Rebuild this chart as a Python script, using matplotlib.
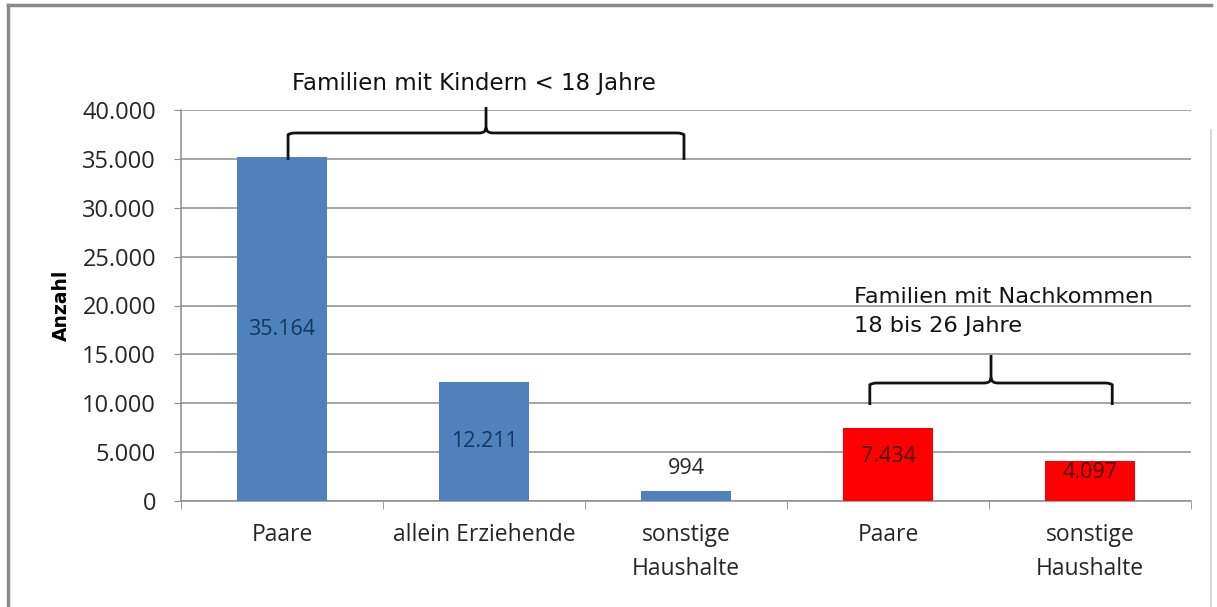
import numpy as np
import matplotlib
matplotlib.use('Agg')
from matplotlib import pyplot as plt
from matplotlib.path import Path
from matplotlib.patches import PathPatch
from matplotlib.ticker import FuncFormatter

categories = ['Paare', 'allein Erziehende', 'sonstige\nHaushalte', 'Paare', 'sonstige\nHaushalte']
values = [35164, 12211, 994, 7434, 4097]
groups = ['kinder', 'kinder', 'kinder', 'nachkommen', 'nachkommen']
y_ticks = [0, 5000, 10000, 15000, 20000, 25000, 30000, 35000, 40000]
label_kinder = 'Familien mit Kindern < 18 Jahre'
label_nachkommen = 'Familien mit Nachkommen\n18 bis 26 Jahre'

colors = {'kinder': '#4F81BD', 'nachkommen': '#FF0000'}
text_colors = {'kinder': '#17365D', 'nachkommen': '#4a0000'}
lab_font = 'Open Sans'


def fmt(v, pos=None):
    return f'{int(v):,}'.replace(',', '.')


def brace(ax, x0, x1, ylow, yhigh, ytip, rx=0.035, ry=900):
    xm = (x0 + x1) / 2
    verts = [(x0, ylow), (x0, yhigh - ry * 0.2), (x0 + rx * 0.3, yhigh), (x0 + rx, yhigh),
             (xm - rx, yhigh), (xm, yhigh), (xm, yhigh + ry * 0.6), (xm, ytip),
             (xm, yhigh + ry * 0.6), (xm, yhigh), (xm + rx, yhigh),
             (x1 - rx, yhigh), (x1 - rx * 0.3, yhigh), (x1, yhigh - ry * 0.2), (x1, ylow)]
    codes = [Path.MOVETO, Path.LINETO, Path.CURVE3, Path.CURVE3,
             Path.LINETO, Path.CURVE3, Path.CURVE3, Path.LINETO,
             Path.MOVETO, Path.CURVE3, Path.CURVE3,
             Path.LINETO, Path.CURVE3, Path.CURVE3, Path.LINETO]
    ax.add_patch(PathPatch(Path(verts, codes), fill=False, lw=2.0, color='#111111',
                           clip_on=False, zorder=5))


fig = plt.figure(figsize=(12.17, 6.07), dpi=100)
ax = fig.add_axes([181 / 1217, 1 - 501 / 607, 1010 / 1217, 391 / 607])

x = np.arange(len(values))
bar_colors = [colors[g] for g in groups]
ax.bar(x, values, width=0.45, color=bar_colors, zorder=3)

for xi, v, g in zip(x, values, groups):
    if v < 2000:
        ax.annotate(fmt(v), (xi, v), xytext=(0, 9), textcoords='offset points',
                    ha='center', va='bottom', fontsize=15.5, color='#262626', family=lab_font)
    else:
        yy = v / 2 if g == 'kinder' else v / 2 + 850
        ax.text(xi, yy, fmt(v), ha='center', va='center', fontsize=15.5,
                color=text_colors[g], family=lab_font, zorder=4)

ax.set_xlim(-0.5, len(values) - 0.5)
ax.set_ylim(0, 40000)
ax.set_yticks(y_ticks)
ax.yaxis.set_major_formatter(FuncFormatter(fmt))
ax.set_xticks(x)
ax.set_xticklabels(categories, family=lab_font, fontsize=16.5, color='#262626', linespacing=1.55, va='top')
ax.set_xticks(np.arange(-0.5, len(values)), minor=True)
ax.tick_params(axis='x', which='major', length=0, pad=16)
ax.tick_params(axis='x', which='minor', length=6, color='#8c8c8c', direction='out')
ax.tick_params(axis='y', length=5, color='#8c8c8c', pad=13, labelsize=17, labelcolor='#262626')
for lab in ax.get_yticklabels():
    lab.set_family(lab_font)
ax.grid(axis='y', color='#8c8c8c', lw=1.1, zorder=0)
for s in ['top', 'right']:
    ax.spines[s].set_visible(False)
for s in ['left', 'bottom']:
    ax.spines[s].set_color('#8c8c8c')
    ax.spines[s].set_linewidth(1.1)

ax.set_ylabel('Anzahl', fontsize=13.5, fontweight='bold', family='DejaVu Sans')
ax.yaxis.set_label_coords(-110 / 1010, (501 - 305) / 391)

brace(ax, 0.03, 1.99, 34900, 37650, 40300)
brace(ax, 2.91, 4.11, 9820, 12070, 14940)

ax.text(0.95, 42700, label_kinder, ha='center', va='center', fontsize=16.5,
        family='DejaVu Sans', color='#111111', clip_on=False)
ax.text(2.83, 21900, label_nachkommen, ha='left', va='top', fontsize=16.2,
        family='DejaVu Sans', color='#111111', linespacing=1.55, clip_on=False)

# outer frame
fig.add_artist(plt.Line2D([8 / 1217, 8 / 1217], [0, 1 - 5 / 607], color='#8a8a8a', lw=2.5))
fig.add_artist(plt.Line2D([8 / 1217, 1211 / 1217], [1 - 5 / 607, 1 - 5 / 607], color='#8a8a8a', lw=2.5))
fig.add_artist(plt.Line2D([1211 / 1217, 1211 / 1217], [0, 1 - 130 / 607], color='#d8d8d8', lw=1.5))

fig.savefig('out.png', dpi=100)
